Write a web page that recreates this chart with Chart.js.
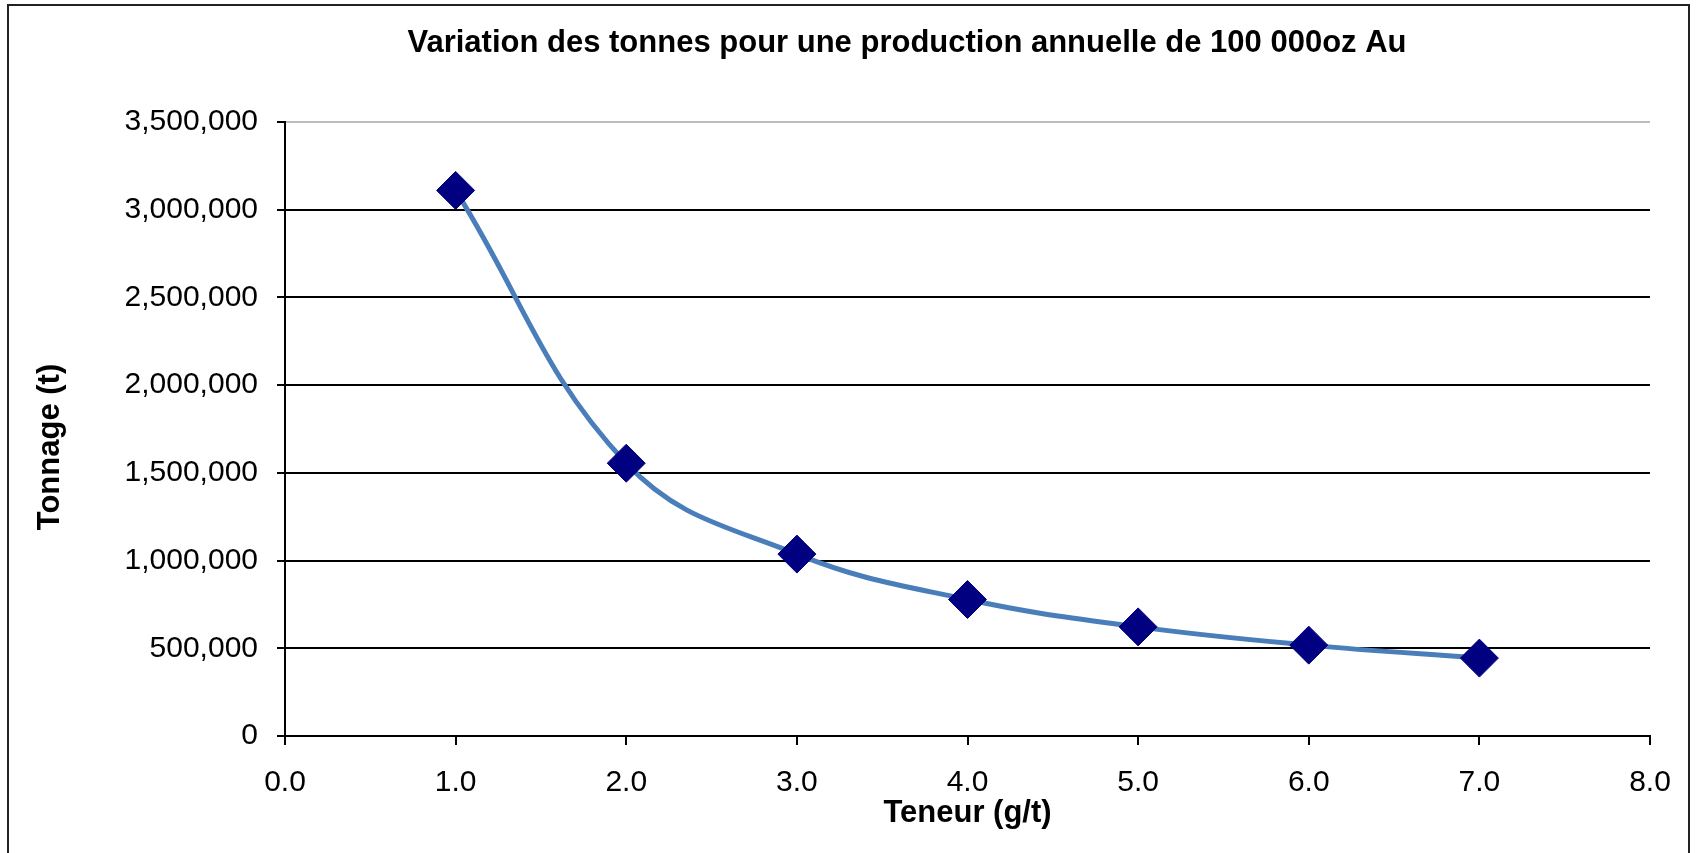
<!DOCTYPE html>
<html>
<head>
<meta charset="utf-8">
<title>Variation des tonnes</title>
<script src="https://cdn.jsdelivr.net/npm/chart.js@4.4.1/dist/chart.umd.min.js"></script>
<style>
  html, body { margin: 0; padding: 0; background: #fff; overflow: hidden; }
  #cadre {
    position: absolute; left: 7px; top: 4px; width: 1683px; height: 860px;
    box-sizing: border-box; border: 2px solid #222; pointer-events: none;
  }
  canvas { position: absolute; left: 0; top: 0; }
</style>
</head>
<body>
<canvas id="graphique" width="1696" height="853"></canvas>
<div id="cadre"></div>
<script>
// Données
const teneurs = [1, 2, 3, 4, 5, 6, 7];                 // g/t
const tonnages = [3110000, 1555000, 1037000, 778000, 622000, 518000, 444000]; // t
const titreGraphique = "Variation des tonnes pour une production annuelle de 100 000oz Au";
const titreX = "Teneur (g/t)";
const titreY = "Tonnage (t)";

const police = "Arial, 'Liberation Sans', sans-serif";

const points = teneurs.map((t, i) => ({ x: t, y: tonnages[i] }));

// titre principal et titre de l'axe Y, placés comme dans Excel
const pluginTitres = {
  id: 'titres',
  afterDraw(chart) {
    const ctx = chart.ctx;
    ctx.save();
    ctx.fillStyle = '#000';
    ctx.textAlign = 'center';
    ctx.textBaseline = 'middle';
    ctx.font = "bold 31px " + police;
    ctx.fillText(titreGraphique, 907, 43);

    ctx.translate(50, 447);
    ctx.rotate(-Math.PI / 2);
    ctx.fillText(titreY, 0, 0);
    ctx.restore();
  }
};

new Chart(document.getElementById('graphique'), {
  type: 'line',
  data: {
    datasets: [{
      data: points,
      borderColor: '#4a7ebb',
      borderWidth: 5,
      tension: 0.4,
      pointStyle: 'rectRot',
      pointRadius: 19,
      pointBackgroundColor: '#000080',
      pointBorderColor: '#000080',
      pointBorderWidth: 1,
      fill: false
    }]
  },
  options: {
    responsive: false,
    animation: false,
    devicePixelRatio: 1,
    layout: { padding: { left: 0, right: 46, top: 122, bottom: 0 } },
    plugins: {
      legend: { display: false },
      tooltip: { enabled: false }
    },
    scales: {
      x: {
        type: 'linear',
        min: 0, max: 8,
        afterFit(s) { s.height = 117; },
        ticks: {
          stepSize: 1,
          padding: 20,
          color: '#000',
          font: { family: police, size: 30 },
          callback: v => Number(v).toFixed(1)
        },
        grid: { drawOnChartArea: false, drawTicks: true, tickLength: 9, color: '#000', lineWidth: 2 },
        border: { display: true, color: '#000', width: 2 },
        title: {
          display: true, text: titreX, color: '#000',
          font: { family: police, size: 31, weight: 'bold' },
          padding: { top: 0, bottom: 21 }
        }
      },
      y: {
        min: 0, max: 3500000,
        afterFit(s) { s.width = 285; },
        ticks: {
          stepSize: 500000,
          padding: 19,
          color: '#000',
          font: { family: police, size: 30 },
          callback: v => Number(v).toLocaleString('en-US')
        },
        grid: {
          color: ctx => (ctx.tick && ctx.tick.value === 3500000) ? '#bdbdbd' : '#000',
          tickColor: '#000',
          lineWidth: 2,
          tickLength: 8
        },
        border: { display: true, color: '#000', width: 2 },
        title: { display: false }
      }
    }
  },
  plugins: [pluginTitres]
});
</script>
</body>
</html>
